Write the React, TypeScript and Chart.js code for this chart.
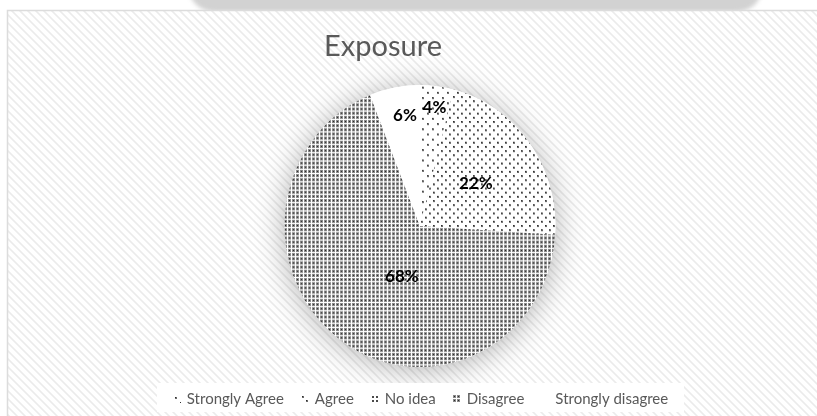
import React, { useEffect, useRef } from 'react';
import { Chart, registerables } from 'chart.js';

Chart.register(...registerables);

// ---------- data ----------
const categories = ['Strongly Agree', 'Agree', 'No idea', 'Disagree', 'Strongly disagree'];
const percentValues = [4, 22, 0, 68, 6];
const chartTitle = 'Exposure';

// ---------- label placement style (fraction of radius / fraction along slice) ----------
const labelRadiusFrac = [0.85, 0.51, 0.5, 0.38, 0.79];
const labelAngleFrac = [0.5, 0.5, 0.5, 0.437, 0.625];

const FONT = 'Lato, "Open Sans", sans-serif';
const Y_STRETCH = 1.04;
const TEXT_GRAY = '#595959';

function makeTile(w: number, h: number, draw: (g: CanvasRenderingContext2D) => void) {
  const c = document.createElement('canvas');
  c.width = w;
  c.height = h;
  const g = c.getContext('2d') as CanvasRenderingContext2D;
  g.fillStyle = '#ffffff';
  g.fillRect(0, 0, w, h);
  draw(g);
  return c;
}

function dot(g: CanvasRenderingContext2D, x: number, y: number) {
  g.fillStyle = '#6a6a6a';
  g.fillRect(x, y, 2, 2);
  g.fillStyle = '#2e2e2e';
  g.fillRect(x, y, 1, 1);
}

function buildPatterns(ctx: CanvasRenderingContext2D) {
  const sa = makeTile(10, 10, (g) => {
    dot(g, 2, 2);
    dot(g, 7, 7);
  });
  const ag = makeTile(8, 8, (g) => {
    dot(g, 1, 1);
    dot(g, 5, 5);
  });
  const ni = makeTile(4, 4, (g) => {
    g.fillStyle = '#4a4a4a';
    g.fillRect(1, 1, 2, 2);
  });
  const di = makeTile(4, 4, (g) => {
    g.fillStyle = '#8a8a8a';
    g.fillRect(0, 0, 3, 3);
    g.fillStyle = '#2a2a2a';
    g.fillRect(1, 1, 1, 1);
  });
  return [
    ctx.createPattern(sa, 'repeat'),
    ctx.createPattern(ag, 'repeat'),
    ctx.createPattern(ni, 'repeat'),
    ctx.createPattern(di, 'repeat'),
    '#ffffff',
  ];
}

function buildStripes(ctx: CanvasRenderingContext2D) {
  const tile = makeTile(8, 8, (g) => {
    for (let y = 0; y < 8; y++) {
      for (let x = 0; x < 8; x++) {
        const k = (((x - y) % 8) + 8) % 8;
        if (k === 0 || k === 2) {
          g.fillStyle = '#f2f2f2';
          g.fillRect(x, y, 1, 1);
        } else if (k === 1) {
          g.fillStyle = '#ebebeb';
          g.fillRect(x, y, 1, 1);
        }
      }
    }
  });
  return ctx.createPattern(tile, 'repeat');
}

export default function App() {
  const ref = useRef<HTMLCanvasElement | null>(null);

  useEffect(() => {
    document.body.style.margin = '0';
    const canvas = ref.current as HTMLCanvasElement;
    const ctx0 = canvas.getContext('2d') as CanvasRenderingContext2D;
    const patterns = buildPatterns(ctx0);
    const stripes = buildStripes(ctx0);

    const bgPlugin = {
      id: 'bgPlugin',
      beforeDraw(chart: any) {
        const ctx = chart.ctx as CanvasRenderingContext2D;
        const W = chart.width;
        const H = chart.height;
        ctx.save();
        ctx.fillStyle = '#ffffff';
        ctx.fillRect(0, 0, W, H);
        // blurred grey shape above frame
        ctx.filter = 'blur(2px)';
        ctx.fillStyle = '#d2d2d2';
        ctx.beginPath();
        ctx.moveTo(188, -10);
        ctx.lineTo(762, -10);
        ctx.quadraticCurveTo(758, 11, 735, 12);
        ctx.lineTo(215, 12);
        ctx.quadraticCurveTo(194, 11, 188, -10);
        ctx.closePath();
        ctx.fill();
        ctx.filter = 'none';
        // frame with diagonal stripes
        ctx.fillStyle = stripes as any;
        ctx.fillRect(7, 10, W, H);
        ctx.strokeStyle = '#dcdcdc';
        ctx.lineWidth = 1.5;
        ctx.strokeRect(7.5, 10.5, W + 10, H + 10);
        ctx.restore();
      },
    };

    const piePlugin = {
      id: 'piePlugin',
      beforeDatasetsDraw(chart: any) {
        const ctx = chart.ctx as CanvasRenderingContext2D;
        const ca = chart.chartArea;
        const cx = (ca.left + ca.right) / 2;
        const cy = (ca.top + ca.bottom) / 2;
        const meta = chart.getDatasetMeta(0);
        const r = meta.data[0].outerRadius;
        ctx.save();
        ctx.translate(cx, cy);
        ctx.scale(1, Y_STRETCH);
        ctx.translate(-cx, -cy);
        ctx.save();
        ctx.shadowColor = 'rgba(0,0,0,0.30)';
        ctx.shadowBlur = 30;
        ctx.shadowOffsetY = 3;
        ctx.fillStyle = '#ffffff';
        ctx.beginPath();
        ctx.arc(cx, cy, r, 0, Math.PI * 2);
        ctx.fill();
        ctx.restore();
      },
      afterDatasetsDraw(chart: any) {
        const ctx = chart.ctx as CanvasRenderingContext2D;
        ctx.restore();
        const meta = chart.getDatasetMeta(0);
        ctx.save();
        ctx.font = `bold 17px ${FONT}`;
        ctx.fillStyle = '#000000';
        ctx.textAlign = 'center';
        ctx.textBaseline = 'middle';
        meta.data.forEach((arc: any, i: number) => {
          const v = percentValues[i];
          if (!v) return;
          const p = arc.getProps(['x', 'y', 'startAngle', 'endAngle', 'outerRadius'], true);
          const a = p.startAngle + labelAngleFrac[i] * (p.endAngle - p.startAngle);
          const rr = p.outerRadius * labelRadiusFrac[i];
          const lx = p.x + Math.cos(a) * rr;
          const ly = p.y + Math.sin(a) * rr * Y_STRETCH;
          ctx.fillText(`${v}%`, lx, ly);
        });
        ctx.restore();
      },
    };

    const decorPlugin = {
      id: 'decorPlugin',
      afterDraw(chart: any) {
        const ctx = chart.ctx as CanvasRenderingContext2D;
        ctx.save();
        // title
        ctx.font = `29px ${FONT}`;
        ctx.fillStyle = TEXT_GRAY;
        ctx.textAlign = 'center';
        ctx.textBaseline = 'alphabetic';
        ctx.fillText(chartTitle, 383, 56);

        // legend box
        const boxL = 157;
        const boxR = 684;
        ctx.fillStyle = '#ffffff';
        ctx.fillRect(boxL, 383, boxR - boxL, 29);

        ctx.font = `15px ${FONT}`;
        const marker = 8;
        const gap = 6;
        const itemGap = 17;
        const widths = categories.map((c) => ctx.measureText(c).width);
        const total =
          widths.reduce((s, w) => s + w + marker + gap, 0) + itemGap * (categories.length - 1);
        let x = (boxL + boxR) / 2 - total / 2;
        const baseY = 404;
        categories.forEach((c, i) => {
          ctx.save();
          ctx.translate(Math.round(x), 395);
          ctx.fillStyle = patterns[i] as any;
          ctx.fillRect(0, 0, marker, marker);
          ctx.restore();
          x += marker + gap;
          ctx.fillStyle = TEXT_GRAY;
          ctx.textAlign = 'left';
          ctx.fillText(c, x, baseY);
          x += widths[i] + itemGap;
        });
        ctx.restore();
      },
    };

    const chart = new Chart(canvas, {
      type: 'pie',
      data: {
        labels: categories,
        datasets: [
          {
            data: percentValues,
            backgroundColor: patterns as any,
            borderWidth: 0,
            hoverOffset: 0,
            offset: 0,
            clip: false as any,
          },
        ],
      },
      options: {
        animation: false,
        responsive: false,
        events: [],
        layout: { padding: { left: 284.5, right: 261.5, top: 90.5, bottom: 54.5 } },
        plugins: {
          legend: { display: false },
          title: { display: false },
          tooltip: { enabled: false },
        },
      },
      plugins: [bgPlugin, piePlugin, decorPlugin],
    });

    return () => chart.destroy();
  }, []);

  return <canvas ref={ref} width={817} height={416} style={{ display: 'block', width: 817, height: 416 }} />;
}
